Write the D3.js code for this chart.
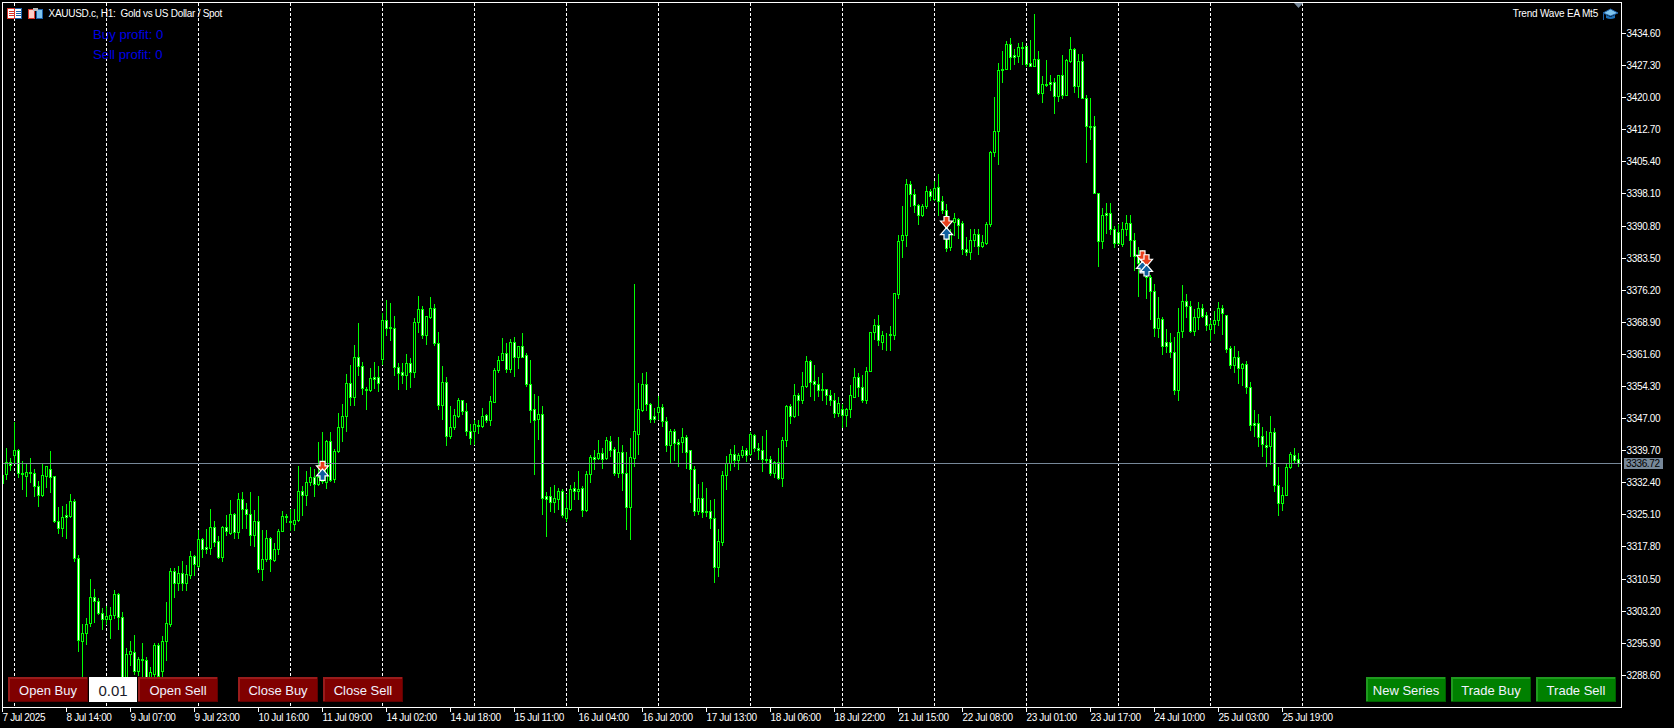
<!DOCTYPE html>
<html lang="en">
<head>
<meta charset="UTF-8">
<title>XAUUSD.c, H1</title>
<script src="https://d3js.org/d3.v7.min.js"></script>
<style>
    html, body { margin: 0; padding: 0; background: #000; overflow: hidden; }
    svg { display: block; }
    text { font-family: "Liberation Sans", Arial, sans-serif; }
    .axis text { font-size: 10px; fill: #fff; font-family: "Liberation Sans", Arial, sans-serif; letter-spacing: -0.35px; }
    .axis line { stroke: #fff; shape-rendering: crispEdges; }
    .crisp { shape-rendering: crispEdges; }
</style>
</head>
<body>
<svg width="1674" height="728"></svg>
<script>
// hourly candles (10 per row)
const highs = [
3334.2,3340.2,3337.9,3346.0,3340.0,3337.2,3336.7,3338.0,3335.4,3332.7,
3336.6,3336.1,3339.5,3333.9,3326.7,3327.0,3327.5,3329.8,3328.6,3315.9,
3300.2,3301.5,3310.4,3308.2,3306.1,3303.8,3304.2,3304.1,3307.9,3307.3,
3302.9,3294.7,3296.3,3297.7,3292.6,3295.8,3292.6,3290.4,3295.8,3295.8,
3297.5,3305.2,3312.9,3312.9,3313.4,3314.5,3313.6,3316.8,3315.9,3321.6,
3319.7,3321.8,3326.4,3323.6,3320.2,3322.5,3325.0,3328.4,3325.4,3329.9,
3330.2,3327.6,3330.1,3326.1,3329.3,3321.6,3321.6,3319.9,3318.6,3321.7,
3325.9,3325.2,3326.4,3326.4,3336.1,3331.6,3335.0,3335.9,3335.4,3341.5,
3343.8,3342.1,3343.8,3340.0,3348.1,3350.2,3357.0,3359.1,3363.6,3368.6,
3359.7,3354.1,3358.4,3359.7,3358.9,3370.9,3373.9,3373.2,3370.3,3359.5,
3359.5,3361.6,3360.6,3369.7,3374.7,3372.5,3370.3,3374.5,3373.0,3366.6,
3358.8,3356.3,3349.8,3349.0,3351.5,3351.1,3350.4,3345.7,3346.6,3346.6,
3349.4,3348.0,3352.1,3358.4,3361.1,3365.2,3364.1,3365.0,3365.4,3363.5,
3366.3,3361.9,3360.3,3352.5,3352.1,3349.8,3330.2,3331.3,3331.8,3331.1,
3330.9,3329.8,3331.8,3332.4,3335.0,3331.6,3335.0,3338.6,3339.7,3342.1,
3340.2,3342.7,3343.0,3340.4,3342.7,3340.9,3339.3,3342.5,3377.5,3355.0,
3357.2,3357.5,3350.4,3349.3,3352.1,3350.2,3347.2,3344.5,3344.5,3342.3,
3344.8,3343.1,3339.7,3336.0,3332.1,3332.5,3331.2,3328.4,3328.7,3321.8,
3335.0,3338.4,3340.0,3340.9,3339.0,3340.7,3340.3,3343.8,3343.4,3341.4,
3343.0,3344.4,3338.4,3337.2,3340.3,3342.7,3350.0,3350.2,3354.7,3352.7,
3357.5,3361.1,3360.3,3359.1,3356.4,3357.3,3353.6,3353.4,3352.7,3351.8,
3350.2,3349.4,3354.5,3358.4,3357.3,3356.8,3358.6,3366.6,3369.5,3370.5,
3366.9,3366.3,3368.0,3375.4,3388.7,3395.3,3401.4,3400.9,3399.0,3395.8,
3395.8,3399.9,3399.1,3400.9,3402.6,3397.6,3395.8,3389.9,3393.7,3392.5,
3391.8,3388.1,3389.9,3390.1,3390.0,3388.7,3391.6,3407.7,3420.0,3427.8,
3430.6,3432.8,3433.5,3431.0,3432.4,3432.6,3431.7,3433.1,3439.0,3430.6,
3424.9,3428.5,3425.1,3424.4,3425.1,3429.7,3428.7,3433.8,3431.2,3429.9,
3429.9,3420.6,3419.9,3415.8,3398.2,3394.8,3395.9,3395.9,3390.6,3391.2,
3391.7,3393.3,3393.3,3389.0,3385.9,3385.3,3382.3,3379.6,3377.6,3374.5,
3370.0,3367.3,3366.3,3365.4,3372.0,3377.3,3375.2,3373.7,3371.9,3373.4,
3373.0,3371.1,3369.4,3371.4,3373.5,3372.8,3370.5,3363.4,3363.4,3362.3,
3359.5,3360.0,3355.2,3348.9,3348.0,3345.0,3344.1,3347.5,3344.7,3335.9,
3331.4,3336.8,3339.3,3340.2,3339.0];
const lows = [
3331.8,3333.1,3335.2,3336.7,3333.7,3330.9,3329.3,3332.5,3329.3,3327.0,
3329.3,3331.4,3330.2,3323.3,3320.8,3320.2,3319.8,3324.5,3314.5,3294.1,
3286.0,3295.7,3299.6,3300.5,3302.5,3299.1,3300.2,3297.0,3301.6,3299.1,
3286.7,3286.7,3290.9,3288.8,3288.6,3286.7,3287.1,3287.1,3288.2,3287.9,
3288.4,3291.9,3299.8,3306.2,3307.8,3307.9,3307.9,3310.7,3311.4,3313.2,
3315.4,3316.3,3316.1,3317.8,3315.2,3314.5,3320.4,3320.7,3319.8,3319.8,
3322.0,3322.1,3318.2,3317.8,3311.9,3310.1,3314.5,3312.1,3314.5,3316.1,
3321.2,3323.3,3321.6,3321.6,3323.5,3325.0,3327.2,3331.8,3329.3,3331.8,
3332.2,3331.0,3332.8,3332.5,3339.2,3341.8,3344.1,3350.0,3350.0,3356.9,
3352.5,3349.1,3353.1,3353.8,3353.2,3359.4,3365.9,3364.8,3356.9,3353.7,
3355.0,3353.7,3354.0,3356.4,3366.5,3365.3,3363.9,3369.7,3363.7,3349.1,
3346.8,3340.8,3342.4,3344.6,3347.2,3347.9,3343.1,3341.2,3341.2,3343.7,
3345.0,3346.0,3345.5,3350.6,3357.5,3360.1,3357.5,3357.5,3356.5,3358.5,
3360.9,3354.2,3346.2,3334.2,3342.3,3325.2,3320.1,3325.8,3325.7,3326.3,
3324.6,3323.5,3326.2,3328.7,3328.7,3324.8,3325.8,3332.5,3335.5,3337.7,
3335.7,3337.7,3338.3,3334.0,3333.6,3330.7,3321.8,3319.6,3336.2,3338.9,
3348.7,3348.9,3346.0,3346.0,3346.9,3345.1,3339.6,3337.1,3337.5,3336.2,
3339.2,3335.7,3328.0,3325.0,3325.2,3324.6,3324.8,3322.1,3309.6,3311.0,
3318.2,3330.9,3335.3,3336.2,3335.5,3338.1,3337.3,3338.7,3339.4,3337.8,
3335.0,3336.8,3334.0,3333.7,3333.2,3331.6,3340.6,3345.9,3347.3,3347.8,
3350.5,3354.0,3352.1,3351.0,3352.1,3351.0,3350.3,3350.0,3347.3,3347.5,
3344.9,3345.3,3347.3,3351.7,3352.1,3350.7,3350.5,3357.6,3365.0,3363.7,
3362.8,3362.5,3362.5,3365.0,3374.4,3383.6,3386.1,3395.3,3393.8,3391.2,
3392.9,3394.9,3396.6,3396.7,3393.1,3393.7,3384.9,3385.2,3388.7,3387.9,
3384.4,3384.2,3383.1,3386.1,3384.4,3385.9,3386.5,3390.8,3406.6,3404.9,
3423.5,3426.3,3426.3,3427.6,3428.1,3427.6,3427.2,3427.0,3427.0,3420.8,
3419.0,3422.6,3421.7,3416.3,3419.2,3419.7,3420.4,3428.1,3421.1,3420.0,
3419.7,3405.3,3410.6,3398.2,3381.5,3385.6,3389.1,3388.9,3385.9,3386.6,
3386.2,3388.7,3383.8,3380.6,3374.7,3380.5,3374.3,3369.6,3365.7,3365.4,
3361.6,3362.1,3361.0,3352.5,3351.2,3365.4,3370.0,3366.6,3366.0,3367.3,
3370.1,3367.1,3364.7,3366.3,3368.2,3366.2,3362.1,3358.5,3357.5,3355.0,
3354.6,3352.7,3344.4,3343.0,3340.7,3338.4,3336.2,3336.6,3330.3,3324.9,
3326.0,3329.4,3335.6,3336.8,3336.0];
const opens = [
3332.2,3334.2,3337.0,3338.7,3339.7,3334.5,3333.9,3334.8,3334.5,3331.5,
3329.6,3333.9,3335.5,3333.8,3323.6,3321.9,3324.9,3324.8,3328.1,3315.1,
3296.4,3298.1,3300.4,3306.3,3305.4,3302.6,3301.4,3301.4,3302.1,3307.0,
3301.7,3287.9,3293.4,3293.8,3289.4,3292.2,3291.9,3287.9,3288.8,3295.4,
3289.4,3296.2,3300.1,3312.2,3309.4,3311.7,3309.4,3311.4,3315.7,3313.4,
3319.5,3317.7,3317.5,3322.2,3319.0,3315.5,3322.2,3320.9,3325.1,3321.0,
3328.6,3326.4,3325.1,3320.3,3323.7,3312.6,3314.9,3319.7,3314.8,3317.2,
3321.3,3324.7,3323.7,3323.0,3323.8,3330.4,3329.4,3332.4,3333.6,3331.9,
3334.5,3332.4,3341.8,3333.1,3339.4,3345.0,3347.4,3355.0,3351.8,3361.0,
3358.8,3353.7,3353.3,3356.4,3356.3,3360.4,3369.3,3367.7,3367.4,3358.6,
3357.5,3356.9,3359.5,3357.4,3368.8,3371.8,3365.8,3370.1,3372.0,3364.0,
3350.0,3355.2,3342.9,3344.9,3347.4,3351.1,3348.7,3344.0,3344.0,3345.5,
3345.1,3347.7,3346.5,3350.7,3357.9,3360.2,3361.9,3358.2,3364.2,3360.9,
3363.3,3361.3,3354.7,3349.0,3346.7,3347.9,3329.3,3329.3,3328.0,3328.7,
3330.4,3324.2,3326.4,3331.1,3330.3,3331.1,3326.0,3334.3,3338.1,3337.9,
3339.0,3337.9,3341.7,3339.9,3334.6,3339.3,3334.5,3326.7,3338.0,3343.4,
3348.9,3354.7,3350.3,3347.5,3348.3,3349.5,3346.3,3340.8,3344.0,3341.6,
3341.5,3342.8,3339.7,3335.4,3325.8,3328.8,3325.9,3325.8,3324.3,3313.1,
3318.9,3334.0,3336.8,3338.8,3337.5,3338.6,3339.7,3338.8,3343.1,3340.2,
3339.7,3337.8,3337.6,3334.4,3337.0,3333.4,3341.9,3349.8,3347.4,3352.2,
3351.2,3354.2,3360.0,3355.4,3354.7,3353.6,3353.6,3352.2,3351.2,3348.1,
3349.0,3347.6,3349.0,3351.9,3356.3,3354.0,3351.1,3357.7,3366.5,3368.2,
3364.4,3365.9,3366.2,3366.0,3375.2,3387.5,3388.6,3400.3,3397.9,3395.4,
3393.1,3395.3,3398.7,3396.9,3399.6,3396.4,3394.4,3385.9,3391.5,3392.3,
3391.4,3385.5,3384.7,3387.5,3388.9,3386.1,3386.8,3391.2,3407.5,3412.3,
3426.4,3426.4,3432.1,3429.6,3429.4,3431.4,3431.6,3427.8,3427.2,3428.7,
3421.0,3423.0,3423.5,3423.5,3420.2,3425.0,3420.6,3428.3,3431.0,3422.6,
3428.2,3419.7,3413.5,3413.4,3398.2,3387.3,3393.7,3393.7,3390.0,3389.3,
3386.5,3390.0,3391.4,3387.5,3383.6,3383.4,3381.1,3379.1,3375.9,3367.6,
3369.6,3364.3,3364.3,3362.0,3353.3,3366.7,3373.6,3372.4,3366.8,3369.9,
3372.0,3370.4,3367.3,3368.5,3369.2,3372.0,3370.4,3362.9,3359.0,3360.9,
3358.5,3359.3,3354.1,3345.9,3345.9,3342.9,3340.9,3340.6,3343.8,3331.7,
3327.6,3329.6,3335.8,3338.6,3337.7];
const closes = [
3334.1,3336.9,3336.4,3339.7,3334.5,3334.2,3334.7,3334.4,3331.5,3329.6,
3334.0,3336.1,3333.7,3323.5,3321.9,3324.5,3324.5,3328.1,3315.1,3296.6,
3298.1,3300.1,3306.3,3305.3,3302.6,3301.4,3301.9,3302.2,3307.0,3301.7,
3287.5,3293.3,3294.0,3289.4,3292.2,3291.9,3287.9,3289.2,3295.4,3288.4,
3296.2,3300.4,3312.2,3309.4,3311.7,3309.4,3311.5,3315.7,3313.7,3319.5,
3317.3,3317.3,3322.2,3318.9,3315.5,3322.2,3321.3,3325.1,3321.0,3328.6,
3326.3,3325.1,3320.3,3323.7,3312.6,3314.9,3319.7,3314.9,3317.2,3321.3,
3324.8,3324.5,3323.3,3323.8,3330.4,3329.4,3332.4,3333.6,3331.9,3333.7,
3332.6,3341.8,3333.0,3339.5,3345.0,3347.4,3355.0,3351.8,3361.0,3358.8,
3353.8,3353.3,3356.1,3356.0,3354.9,3369.3,3367.6,3367.4,3358.6,3357.2,
3356.9,3359.5,3357.4,3368.8,3371.8,3365.8,3370.2,3372.0,3364.0,3350.0,
3355.2,3342.9,3344.9,3347.7,3351.1,3348.7,3344.0,3342.4,3345.6,3345.1,
3347.5,3346.5,3350.9,3357.9,3360.2,3361.9,3358.2,3364.2,3360.9,3363.3,
3361.0,3354.7,3348.8,3346.6,3347.9,3328.8,3328.7,3328.0,3328.8,3330.4,
3325.0,3326.5,3330.9,3330.3,3330.9,3326.0,3334.3,3338.1,3337.8,3339.0,
3337.7,3342.0,3339.8,3334.6,3339.3,3334.5,3326.7,3338.2,3344.0,3349.0,
3354.7,3350.1,3346.9,3346.9,3349.5,3346.3,3340.8,3344.0,3341.3,3341.2,
3342.7,3339.2,3335.4,3325.8,3328.8,3325.6,3325.6,3324.3,3313.1,3319.0,
3334.0,3336.8,3338.8,3337.4,3338.6,3339.7,3338.6,3343.4,3340.1,3339.7,
3337.7,3337.5,3334.4,3337.0,3333.4,3342.0,3349.8,3347.4,3352.2,3351.2,
3354.3,3360.0,3355.3,3354.7,3353.5,3353.5,3352.2,3351.2,3348.1,3350.4,
3347.6,3349.0,3352.2,3356.3,3354.0,3351.2,3357.6,3366.5,3368.2,3364.7,
3365.9,3365.8,3365.8,3375.4,3387.3,3388.7,3400.3,3397.9,3395.4,3393.2,
3395.3,3398.7,3397.5,3399.4,3396.3,3394.3,3385.8,3389.1,3392.5,3390.9,
3385.5,3384.7,3387.5,3388.9,3386.1,3387.1,3391.2,3407.5,3412.3,3426.2,
3426.2,3432.1,3429.1,3429.1,3431.4,3431.1,3427.6,3427.2,3428.7,3421.0,
3423.0,3422.8,3422.9,3420.2,3425.0,3420.6,3428.5,3431.0,3422.6,3428.2,
3419.7,3413.4,3413.2,3398.2,3387.3,3393.2,3393.1,3390.0,3386.8,3386.8,
3390.0,3391.4,3387.5,3383.9,3382.3,3381.5,3379.1,3375.8,3367.6,3369.7,
3363.5,3363.5,3362.1,3353.3,3366.6,3373.6,3372.4,3366.8,3369.9,3372.0,
3370.3,3368.1,3368.5,3369.3,3372.0,3371.0,3362.8,3359.0,3360.9,3358.5,
3359.3,3354.0,3345.4,3345.4,3342.7,3341.0,3340.5,3343.8,3331.7,3327.6,
3329.6,3335.8,3338.8,3337.4,3336.72];

const priceTicks = [3434.60,3427.30,3420.00,3412.70,3405.40,3398.10,3390.80,3383.50,3376.20,3368.90,3361.60,3354.30,3347.00,3339.70,3332.40,3325.10,3317.80,3310.50,3303.20,3295.90,3288.60];
const timeLabels = ["7 Jul 2025","8 Jul 14:00","9 Jul 07:00","9 Jul 23:00","10 Jul 16:00","11 Jul 09:00","14 Jul 02:00","14 Jul 18:00","15 Jul 11:00","16 Jul 04:00","16 Jul 20:00","17 Jul 13:00","18 Jul 06:00","18 Jul 22:00","21 Jul 15:00","22 Jul 08:00","23 Jul 01:00","23 Jul 17:00","24 Jul 10:00","25 Jul 03:00","25 Jul 19:00"];
const timeTickBars = timeLabels.map((d, i) => i * 16);
const dayBars = [3,26,49,72,95,118,141,164,187,210,233,256,279,302,325]; // dashed separators
const lastPrice = 3336.72;

// trade arrows
const tradeBars = [80,80,236,236,285,286,285,286];
const tradePrices = [3335.9,3334.3,3391.6,3389.2,3383.8,3382.9,3381.5,3380.8];
const tradeKinds = ["sell","buy","sell","buy","sell","sell","buy","buy"];

const leftButtons = ["Open Buy","Open Sell","Close Buy","Close Sell"];
const rightButtons = ["New Series","Trade Buy","Trade Sell"];

const svg = d3.select("svg");
const green = "#00ff00";
const slate = "#778899";

const x = d3.scaleLinear().domain([0, 1]).range([2.5, 6.5]);
const y = d3.scaleLinear().domain([3434.6, 3288.6]).range([33.5, 675.3]);
const py = p => Math.floor(y(p)) + 0.5; // snap to pixel row

svg.append("rect").attr("width", 1674).attr("height", 728).attr("fill", "#000");

svg.append("defs").append("clipPath").attr("id", "plot")
    .append("rect").attr("x", 3).attr("y", 3).attr("width", 1618).attr("height", 704);

const plot = svg.append("g").attr("clip-path", "url(#plot)");

// day separators
plot.append("g").selectAll("line").data(dayBars).enter().append("line")
    .attr("class", "crisp")
    .attr("x1", d => x(d)).attr("x2", d => x(d))
    .attr("y1", 3).attr("y2", 707)
    .attr("stroke", "#fff")
    .attr("stroke-dasharray", "3,2");

// candles
const bars = d3.range(highs.length);
const candles = plot.append("g").selectAll("g").data(bars).enter().append("g").attr("class", "crisp");
candles.append("line")
    .attr("x1", d => x(d)).attr("x2", d => x(d))
    .attr("y1", d => py(highs[d]) - 0.5).attr("y2", d => py(lows[d]) + 0.5)
    .attr("stroke", green);
candles.append("rect")
    .attr("x", d => x(d) - 1)
    .attr("width", 2)
    .attr("y", d => py(Math.max(opens[d], closes[d])))
    .attr("height", d => py(Math.min(opens[d], closes[d])) - py(Math.max(opens[d], closes[d])))
    .attr("fill", d => closes[d] >= opens[d] ? "#000" : "#fff")
    .attr("stroke", green);

// last price line
plot.append("line").attr("class", "crisp")
    .attr("x1", 3).attr("x2", 1621)
    .attr("y1", py(lastPrice)).attr("y2", py(lastPrice))
    .attr("stroke", slate);

// trade arrows
const arrowDown = "M-2.5,-6 H2.5 V-1.5 H6 L0,5.5 L-6,-1.5 H-2.5 Z";
const arrowUp = "M-2.5,6 H2.5 V1.5 H6 L0,-5.5 L-6,1.5 H-2.5 Z";
const trades = plot.append("g").selectAll("path").data(tradeBars.map((b, i) => i)).enter().append("path")
    .attr("transform", i => "translate(" + x(tradeBars[i]) + "," + y(tradePrices[i]) + ")")
    .attr("d", i => tradeKinds[i] === "sell" ? arrowDown : arrowUp)
    .attr("fill", i => tradeKinds[i] === "sell" ? "#e8401c" : "#10609f")
    .attr("stroke", "#fff")
    .attr("stroke-width", 1.2);

// frame
svg.append("rect").attr("class", "crisp")
    .attr("x", 2.5).attr("y", 2.5).attr("width", 1619).attr("height", 705)
    .attr("fill", "none").attr("stroke", "#fff");

// chart-shift mark
svg.append("path").attr("d", "M1294,3 H1303 L1298.5,8 Z").attr("fill", slate);

// axes
const yAxis = svg.append("g").attr("class", "axis")
    .attr("transform", "translate(1621.5,0)")
    .call(d3.axisRight(y).tickValues(priceTicks).tickSize(4).tickPadding(1).offset(0).tickFormat(d3.format(".2f")));
yAxis.select(".domain").remove();
yAxis.selectAll("text").attr("dy", null).attr("y", 3.5);

const xAxis = svg.append("g").attr("class", "axis")
    .attr("transform", "translate(0,707.5)")
    .call(d3.axisBottom(x).tickValues(timeTickBars).tickSize(4).offset(0).tickFormat((d, i) => timeLabels[i]));
xAxis.select(".domain").remove();
xAxis.selectAll("text").attr("text-anchor", "start").attr("dy", null).attr("y", 13);

// last price tag
svg.append("rect").attr("x", 1624).attr("y", 458).attr("width", 39).attr("height", 11).attr("fill", slate);
svg.append("text").attr("x", 1626).attr("y", 467).attr("font-size", 10).attr("letter-spacing", -0.35).attr("fill", "#000").text(d3.format(".2f")(lastPrice));

// header texts
svg.append("text").attr("x", 48.5).attr("y", 17).attr("font-size", 10).attr("letter-spacing", -0.28).attr("fill", "#fff")
    .attr("xml:space", "preserve").style("white-space", "pre")
    .text("XAUUSD.c, H1:  Gold vs US Dollar / Spot");
svg.append("text").attr("x", 93).attr("y", 38.5).attr("font-size", 13.2).attr("fill", "#0000e6").text("Buy profit: 0");
svg.append("text").attr("x", 93).attr("y", 58.5).attr("font-size", 13.2).attr("fill", "#0000e6").text("Sell profit: 0");
svg.append("text").attr("x", 1598).attr("y", 17).attr("font-size", 10).attr("letter-spacing", -0.2).attr("fill", "#fff")
    .attr("text-anchor", "end").text("Trend Wave EA Mt5");

// toolbar icons
const icons = svg.append("g").attr("class", "crisp");
icons.append("rect").attr("x", 7.5).attr("y", 8.5).attr("width", 14).attr("height", 10).attr("fill", "#fff").attr("stroke", "#1d5fa8");
icons.append("rect").attr("x", 7.5).attr("y", 8.5).attr("width", 7).attr("height", 10).attr("fill", "#fff").attr("stroke", "#d9352a");
[11, 13, 15].forEach(v => {
    icons.append("rect").attr("x", 9).attr("y", v).attr("width", 5).attr("height", 1).attr("fill", "#d9352a");
    icons.append("rect").attr("x", 16).attr("y", v).attr("width", 5).attr("height", 1).attr("fill", "#1d5fa8");
});
icons.append("rect").attr("x", 28.5).attr("y", 9.5).attr("width", 6).attr("height", 9).attr("fill", "#fcd0c8").attr("stroke", "#d9352a");
icons.append("rect").attr("x", 36.5).attr("y", 9.5).attr("width", 6).attr("height", 9).attr("fill", "#7fc4ee").attr("stroke", "#1d5fa8");
icons.append("rect").attr("x", 33).attr("y", 8).attr("width", 5).attr("height", 3).attr("fill", "#bbb");
svg.append("path").attr("d", "M1603,13 L1610.5,9 L1618,13 L1610.5,16 Z").attr("fill", "#7fc4ee").attr("stroke", "#1d5fa8");
svg.append("path").attr("d", "M1606,15 V18 Q1610.5,20 1615,18 V15 L1610.5,17 Z").attr("fill", "#1d6fb8");
svg.append("rect").attr("x", 1603).attr("y", 14).attr("width", 1).attr("height", 6).attr("fill", "#1d5fa8");

// buttons
function button(left, label, fill, hi, lo) {
    const g = svg.append("g");
    g.append("rect").attr("class", "crisp").attr("x", left).attr("y", 677).attr("width", 80).attr("height", 25).attr("fill", lo);
    g.append("rect").attr("class", "crisp").attr("x", left).attr("y", 677).attr("width", 79).attr("height", 24).attr("fill", hi);
    g.append("rect").attr("class", "crisp").attr("x", left + 2).attr("y", 679).attr("width", 77).attr("height", 22).attr("fill", fill);
    g.append("text").attr("x", left + 40).attr("y", 695).attr("text-anchor", "middle")
        .attr("font-size", 13).attr("fill", "#f2f2ff").text(label);
}
const redLefts = [8, 138, 238, 323];
leftButtons.forEach((d, i) => button(redLefts[i], d, "#800000", "#991c1c", "#600000"));
const greenLefts = [1366, 1451, 1536];
rightButtons.forEach((d, i) => button(greenLefts[i], d, "#008000", "#1f9a1f", "#006000"));

// lot edit box
svg.append("rect").attr("class", "crisp").attr("x", 89).attr("y", 677).attr("width", 48).attr("height", 25).attr("fill", "#fff");
svg.append("text").attr("x", 113).attr("y", 695.5).attr("text-anchor", "middle").attr("font-size", 15).attr("fill", "#1a1a2a").text("0.01");
</script>
</body>
</html>
